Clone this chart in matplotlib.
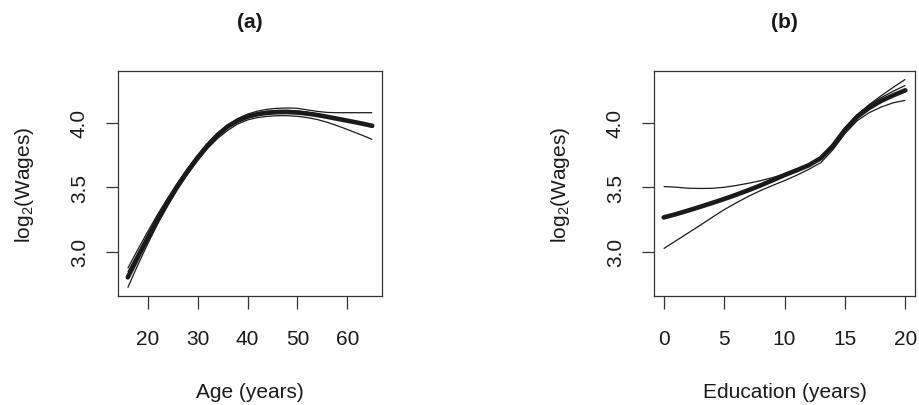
import numpy as np
import matplotlib
matplotlib.use("Agg")
import matplotlib.pyplot as plt

plt.rcParams["font.family"] = ["Liberation Sans", "DejaVu Sans"]
plt.rcParams["mathtext.fontset"] = "custom"
plt.rcParams["mathtext.rm"] = "Liberation Sans"
plt.rcParams["mathtext.it"] = "Liberation Sans:italic"

# Panel (a): log2 wages against age
age = [16, 18, 20, 22, 24, 26, 28, 30, 32, 34, 36, 38, 40, 42, 44, 46, 48, 50,
       52, 54, 56, 58, 60, 62, 64, 65]
age_fit = [2.80, 2.955, 3.105, 3.25, 3.385, 3.51, 3.625, 3.73, 3.825, 3.905,
           3.97, 4.015, 4.047, 4.066, 4.077, 4.082, 4.083, 4.079, 4.071,
           4.06, 4.046, 4.031, 4.016, 4.001, 3.985, 3.976]
age_upper = [2.87, 3.015, 3.155, 3.29, 3.415, 3.535, 3.645, 3.745, 3.838,
             3.918, 3.983, 4.032, 4.067, 4.09, 4.105, 4.112, 4.115, 4.112,
             4.10, 4.088, 4.08, 4.078, 4.078, 4.078, 4.078, 4.078]
age_mid = [2.84, 2.985, 3.13, 3.27, 3.40, 3.522, 3.635, 3.738, 3.831, 3.911,
           3.976, 4.024, 4.058, 4.078, 4.09, 4.096, 4.097, 4.092, 4.082,
           4.069, 4.053, 4.037, 4.021, 4.005, 3.989, 3.979]
age_lower = [2.72, 2.895, 3.06, 3.215, 3.355, 3.485, 3.60, 3.705, 3.80,
             3.878, 3.94, 3.99, 4.022, 4.04, 4.05, 4.055, 4.055, 4.05, 4.04,
             4.025, 4.003, 3.977, 3.948, 3.918, 3.887, 3.87]

# Panel (b): log2 wages against years of education
edu = list(range(0, 21))
edu_fit = [3.265, 3.29, 3.318, 3.347, 3.377, 3.408, 3.441, 3.476, 3.513,
           3.553, 3.594, 3.631, 3.67, 3.725, 3.82, 3.945, 4.045, 4.115, 4.17,
           4.213, 4.252]
edu_upper = [3.505, 3.50, 3.492, 3.49, 3.491, 3.499, 3.513, 3.53, 3.55,
             3.574, 3.603, 3.634, 3.667, 3.722, 3.82, 3.95, 4.06, 4.14, 4.21,
             4.275, 4.337]
edu_mid = [3.27, 3.295, 3.323, 3.352, 3.382, 3.413, 3.446, 3.481, 3.518,
           3.558, 3.599, 3.636, 3.676, 3.733, 3.832, 3.96, 4.062, 4.135,
           4.195, 4.245, 4.29]
edu_lower = [3.023, 3.083, 3.143, 3.203, 3.265, 3.325, 3.378, 3.428, 3.473,
             3.513, 3.551, 3.592, 3.638, 3.69, 3.79, 3.915, 4.015, 4.078,
             4.122, 4.155, 4.174]

y_ticks = [3.0, 3.5, 4.0]
y_ticklabels = ["3.0", "3.5", "4.0"]
age_ticks = [20, 30, 40, 50, 60]
edu_ticks = [0, 5, 10, 15, 20]

W, H = 919, 406
fig = plt.figure(figsize=(W / 100, H / 100), dpi=100)


def px_axes(left, right, top, bottom):
    return fig.add_axes([left / W, 1 - bottom / H, (right - left) / W,
                         (bottom - top) / H])


def padded(vals):
    lo, hi = min(vals), max(vals)
    d = 0.04 * (hi - lo)
    return lo - d, hi + d


all_y = age_fit + age_upper + age_mid + age_lower + edu_fit + edu_upper + \
    edu_mid + edu_lower
ylim = padded(all_y)

ink = "#1a1a1a"
FS = 15

panels = [
    (px_axes(118, 382, 72, 297), age, [age_upper, age_mid, age_lower],
     age_fit, age_ticks, "Age (years)", "(a)"),
    (px_axes(654, 915, 72, 297), edu, [edu_upper, edu_mid, edu_lower],
     edu_fit, edu_ticks, "Education (years)", "(b)"),
]

for ax, x, thin, fit, xt, xlabel, title in panels:
    for band in thin:
        ax.plot(x, band, color=ink, lw=0.9, solid_capstyle="butt",
                solid_joinstyle="round")
    ax.plot(x, fit, color=ink, lw=3.3, solid_capstyle="round",
            solid_joinstyle="round")
    ax.set_xlim(*padded(x))
    ax.set_ylim(*ylim)
    ax.set_xticks(xt)
    ax.set_xticklabels([str(v) for v in xt], fontsize=FS)
    ax.set_yticks(y_ticks)
    ax.set_yticklabels(y_ticklabels, fontsize=FS, rotation=90, va="center")
    ax.tick_params(direction="out", length=9, width=0.9, color="#333333",
                   labelcolor=ink)
    ax.tick_params(axis="x", pad=15)
    ax.tick_params(axis="y", pad=12)
    for s in ax.spines.values():
        s.set_linewidth(0.9)
        s.set_color("#333333")
    h_px = 225.0
    w_px = ax.get_position().width * W
    ax.set_xlabel(xlabel, fontsize=FS, color=ink, va="center")
    ax.xaxis.set_label_coords(0.5, -(393 - 297) / h_px)
    ax.set_ylabel(r"log$_{\mathregular{2}}$(Wages)", fontsize=FS, color=ink,
                  va="center")
    ax.yaxis.set_label_coords(-93 / w_px, 0.5)
    ax.text(0.5, 1 + 50 / h_px, title, transform=ax.transAxes, ha="center",
            va="center", fontsize=FS, fontweight="bold", color=ink)

fig.savefig("out.png", dpi=100)
